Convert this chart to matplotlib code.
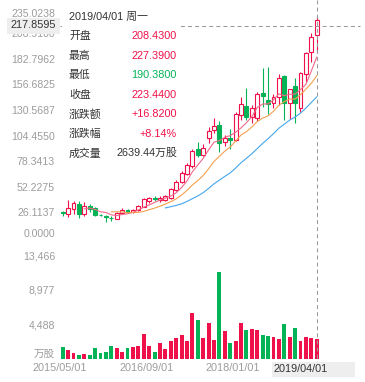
import matplotlib
matplotlib.use("Agg")
import matplotlib.pyplot as plt
import matplotlib.transforms as mtransforms
from matplotlib.patches import Rectangle
import numpy as np
import pandas as pd

# monthly k-line, 2015/05 .. 2019/04
months = pd.date_range("2015-05-01", "2019-04-01", freq="MS")
opens = [27.2, 25.5, 30.5, 35.7, 25.5, 33.3, 31.3, 24.9, 23.3, 21.6, 20.6, 26.2,
         30.1, 27.8, 29.2, 33.0, 38.5, 42.0, 39.5, 40.0, 42.0, 50.0, 58.5, 66.5,
         74.0, 92.0, 85.7, 102.8, 111.2, 116.3, 99.3, 102.8, 101.0, 126.5, 135.7, 124.8,
         123.0, 149.0, 142.0, 138.5, 145.2, 166.3, 138.5, 156.0, 133.4, 168.4, 190.5, 208.43]
highs = [29.0, 39.8, 39.0, 38.5, 38.0, 36.0, 32.5, 26.0, 24.5, 23.5, 27.6, 31.3,
         31.0, 30.5, 34.5, 42.0, 43.0, 44.0, 44.0, 45.0, 52.0, 60.0, 69.0, 78.0,
         92.0, 99.0, 97.0, 114.0, 123.0, 120.7, 106.0, 112.0, 130.0, 145.0, 153.8, 137.0,
         150.0, 174.0, 176.0, 148.0, 168.4, 167.0, 153.0, 164.0, 170.0, 191.0, 210.0, 227.39]
lows = [23.5, 22.8, 26.0, 21.0, 23.0, 28.0, 23.0, 23.0, 17.7, 18.5, 20.1, 25.5,
        27.0, 27.0, 28.5, 32.5, 37.0, 38.5, 38.0, 38.5, 41.0, 49.0, 57.0, 65.0,
        72.0, 84.0, 84.5, 97.6, 108.0, 89.0, 95.0, 92.0, 100.0, 121.4, 121.0, 118.0,
        120.0, 135.0, 128.0, 133.4, 137.0, 121.0, 122.0, 118.0, 130.0, 160.5, 181.0, 190.38]
closes = [26.5, 32.0, 36.5, 25.5, 33.5, 30.5, 24.8, 24.3, 22.6, 21.0, 27.0, 30.1,
          28.0, 29.8, 33.5, 41.0, 41.5, 40.8, 42.0, 43.5, 51.0, 58.5, 67.5, 76.0,
          90.0, 85.7, 92.5, 110.5, 115.6, 97.6, 102.8, 101.2, 127.6, 137.8, 124.2, 133.4,
          148.0, 145.5, 138.0, 145.2, 164.0, 138.5, 152.8, 138.5, 169.0, 190.0, 206.62, 223.44]
# volume, 万股
volumes = [1655, 1220, 830, 565, 695, 565, 1480, 830, 960, 1745, 1480, 960,
           1480, 1610, 1745, 3320, 1745, 960, 2140, 1350, 2400, 2795, 3190, 2400,
           6115, 5155, 2795, 4760, 2530, 11455, 3715, 2140, 2400, 4760, 3845, 3975,
           3845, 3190, 3055, 2925, 2665, 4630, 2925, 4105, 2400, 2925, 2795, 2639.44]

price_ticks = [0.0, 26.1137, 52.2275, 78.3413, 104.4550, 130.5687, 156.6825, 182.7962, 208.9100, 235.0238]
vol_ticks = [0, 4488, 8977, 13466]
vol_tick_labels = ["万股", "4,488", "8,977", "13,466"]
x_label_idx = [0, 16, 32]
cross_price = 217.8595

RED = "#ef1149"
GREEN = "#05b357"
GRAY = "#9c9c9c"
DARK = "#333333"
FONT = ["Liberation Sans", "Noto Sans CJK SC"]
plt.rcParams["font.family"] = FONT

W, H = 365, 382
fig = plt.figure(figsize=(W / 100, H / 100), dpi=100)


def px_box(x0, y0, x1, y1):
    return [x0 / W, 1 - y1 / H, (x1 - x0) / W, (y1 - y0) / H]


def ftext(x, y, s, **kw):
    return fig.text(x / W, 1 - y / H, s, **kw)


n = len(closes)
idx = np.arange(n)
step = 5.404
xlim = (-(62.7 - 57) / step, n - 1 + (362 - 316.7) / step)

ax = fig.add_axes(px_box(57, 8.7, 362, 239))
axv = fig.add_axes(px_box(57, 256.7, 362, 359.3))
for a in (ax, axv):
    a.set_xlim(*xlim)
    a.axis("off")
ax.set_ylim(price_ticks[0], price_ticks[-1])
axv.set_ylim(vol_ticks[0], vol_ticks[-1])

# candles
bw = 0.72
for i in idx:
    o, h, l, c = opens[i], highs[i], lows[i], closes[i]
    up = c >= o
    col = RED if up else GREEN
    ax.vlines(i, l, h, color=col, lw=0.8, zorder=2)
    bottom = min(o, c)
    height = max(abs(c - o), 0.7)
    ax.add_patch(Rectangle((i - bw / 2, bottom), bw, height,
                           facecolor="white" if up else GREEN,
                           edgecolor=col, lw=0.8, zorder=3))

# moving averages
s = pd.Series(closes)
ax.plot(idx, s.rolling(5).mean(), color="#f0698a", lw=0.8, zorder=4)
ax.plot(idx, s.rolling(10).mean(), color="#f4a04f", lw=0.8, zorder=4)
ax.plot(idx, s.rolling(20).mean(), color="#45a6ec", lw=0.8, zorder=4)

# volume bars
vcol = [RED if closes[i] >= opens[i] else GREEN for i in idx]
axv.bar(idx, volumes, width=bw, color=vcol)

# price axis labels
tr_p = mtransforms.blended_transform_factory(fig.transFigure, ax.transData)
for k, t in enumerate(price_ticks):
    va = "bottom" if k == 0 else ("top" if k == len(price_ticks) - 1 else "center")
    fig.text(55 / W, t, f"{t:.4f}", transform=tr_p, ha="right", va=va,
             fontsize=7.6, color=GRAY)

tr_v = mtransforms.blended_transform_factory(fig.transFigure, axv.transData)
for k, (t, lab) in enumerate(zip(vol_ticks, vol_tick_labels)):
    fig.text(55 / W, t, lab, transform=tr_v, ha="right",
             va="bottom" if k == 0 else "center", fontsize=7.6, color=GRAY)

# date labels
tr_x = mtransforms.blended_transform_factory(ax.transData, fig.transFigure)
for i in x_label_idx:
    fig.text(i - 0.5, 1 - 368 / H, months[i].strftime("%Y/%m/%d"), transform=tr_x,
             ha="center", va="center", fontsize=7.8, color=GRAY)

# crosshair
last = n - 1
dash = (0, (3.8, 3))
fig.add_artist(plt.Line2D([last, last], [1.0, 1 - 362 / H], transform=tr_x,
                          color="#999999", lw=0.75, linestyle=dash, zorder=5))
fig.add_artist(plt.Line2D([60 / W, 360 / W], [cross_price, cross_price], transform=tr_p,
                          color="#999999", lw=0.75, linestyle=dash, zorder=5))

fig.add_artist(Rectangle((7 / W, 1 - 33.5 / H), 53 / W, 15.5 / H, transform=fig.transFigure,
                         facecolor="#eeeeee", edgecolor="none", zorder=6))
ftext(56, 25.5, f"{cross_price:.4f}", ha="right", va="center", fontsize=7.8,
      color=DARK, zorder=7)

fig.add_artist(Rectangle((271.7 / W, 1 - 376.7 / H), 83 / W, 15 / H, transform=fig.transFigure,
                         facecolor="#eeeeee", edgecolor="none", zorder=6))
ftext(274, 369, months[last].strftime("%Y/%m/%d"), ha="left", va="center",
      fontsize=7.8, color=DARK, zorder=7)

# tooltip
fig.add_artist(Rectangle((62 / W, 1 - 163 / H), 119 / W, 160 / H, transform=fig.transFigure,
                         facecolor="white", edgecolor="none", zorder=6))
weekdays = ["周一", "周二", "周三", "周四", "周五", "周六", "周日"]
ftext(69, 17, months[last].strftime("%Y/%m/%d") + " " + weekdays[months[last].weekday()],
      ha="left", va="center", fontsize=7.8, color=DARK, zorder=7)
chg = closes[last] - closes[last - 1]
pct = chg / closes[last - 1] * 100
rows = [
    ("开盘", f"{opens[last]:.4f}", RED if opens[last] >= closes[last - 1] else GREEN),
    ("最高", f"{highs[last]:.4f}", RED if highs[last] >= closes[last - 1] else GREEN),
    ("最低", f"{lows[last]:.4f}", RED if lows[last] >= closes[last - 1] else GREEN),
    ("收盘", f"{closes[last]:.4f}", RED if closes[last] >= closes[last - 1] else GREEN),
    ("涨跌额", f"{chg:+.4f}", RED if chg >= 0 else GREEN),
    ("涨跌幅", f"{pct:+.2f}%", RED if chg >= 0 else GREEN),
    ("成交量", f"{volumes[last]:.2f}万股", DARK),
]
for k, (lab, val, col) in enumerate(rows):
    y = 36 + 19.55 * k
    ftext(69, y, lab, ha="left", va="center", fontsize=7.8, color=DARK, zorder=7)
    ftext(177, y, val, ha="right", va="center", fontsize=7.8, color=col, zorder=7)

fig.savefig("out.png", dpi=100, facecolor="white")
